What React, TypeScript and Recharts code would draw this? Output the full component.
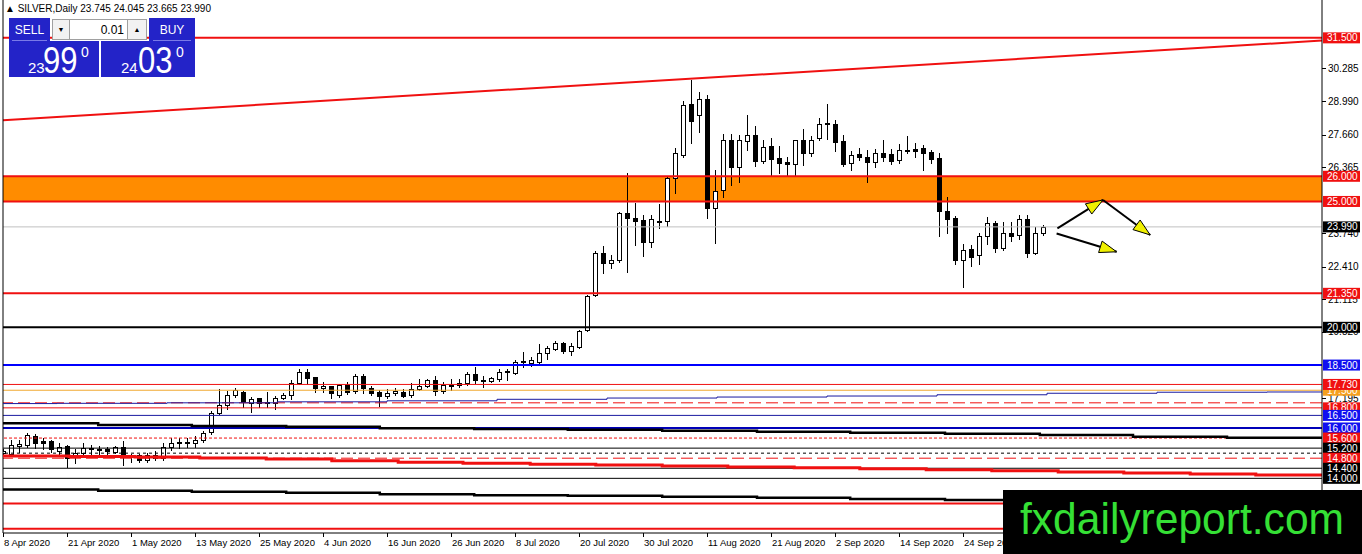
import React from 'react';
import { ComposedChart, Bar, Line, XAxis, YAxis, ReferenceLine, ReferenceArea } from 'recharts';

// ---------- axis ranges (bar index / price) ----------
const X_MIN = 0;
const X_MAX = 164.875;
const Y_MIN = 11.828;
const Y_MAX = 33.004;

// ---------- daily OHLC (SILVER) ----------
const opens = [
  14.99, 14.95, 15.27, 15.31, 15.67, 15.47, 15.47, 15.07, 15.27, 14.84,
  14.99, 15.19, 15.17, 15.15, 15.04, 15.24, 14.92, 14.91, 14.72, 14.91,
  14.80, 15.24, 15.39, 15.43, 15.39, 15.51, 15.83, 16.59, 16.91, 17.30,
  17.42, 16.98, 17.18, 17.04, 16.98, 17.18, 17.30, 17.78, 18.24, 18.01,
  17.58, 17.66, 17.30, 17.70, 17.46, 18.06, 17.58, 17.42, 17.26, 17.40,
  17.42, 17.30, 17.54, 17.66, 17.90, 17.46, 17.66, 17.70, 17.78, 18.14,
  17.90, 17.86, 17.94, 18.22, 18.18, 18.62, 18.58, 18.62, 18.98, 19.14,
  19.38, 19.06, 19.22, 19.89, 21.28, 22.94, 22.55, 22.67, 24.54, 24.34,
  24.26, 23.39, 24.24, 24.22, 25.93, 26.84, 28.87, 28.44, 29.06, 24.73,
  25.45, 27.44, 26.36, 27.42, 27.64, 26.62, 27.20, 26.71, 26.56, 26.48,
  27.44, 26.94, 27.51, 28.07, 28.08, 27.42, 26.52, 26.89, 26.78, 26.58,
  26.91, 26.87, 26.65, 27.02, 27.10, 27.14, 26.98, 26.71, 24.63, 24.33,
  22.69, 23.11, 22.87, 23.62, 24.13, 23.17, 23.73, 23.66, 24.29, 22.96,
  23.745,
];
const highs = [
  15.16, 15.51, 15.54, 15.79, 15.75, 15.59, 15.54, 15.39, 15.31, 15.15,
  15.39, 15.34, 15.29, 15.23, 15.29, 15.47, 14.97, 14.97, 14.99, 15.09,
  15.39, 15.59, 15.59, 15.59, 15.69, 15.89, 16.66, 17.54, 17.47, 17.59,
  17.46, 17.24, 17.20, 17.44, 17.29, 17.39, 17.89, 18.34, 18.34, 18.04,
  17.82, 17.68, 17.74, 17.82, 18.14, 18.14, 17.66, 17.50, 17.54, 17.58,
  17.54, 17.78, 17.94, 17.94, 18.06, 17.82, 17.94, 17.94, 18.24, 18.44,
  18.06, 18.02, 18.34, 18.34, 18.70, 19.02, 18.82, 19.34, 19.26, 19.46,
  19.42, 19.38, 19.90, 21.29, 23.04, 23.23, 22.87, 24.59, 26.14, 24.94,
  24.46, 24.46, 24.90, 25.99, 27.12, 29.01, 29.83, 29.36, 29.23, 26.25,
  27.68, 27.68, 27.64, 28.44, 28.00, 27.44, 27.52, 27.20, 26.76, 27.44,
  27.87, 27.60, 28.31, 28.87, 28.24, 27.64, 27.02, 27.14, 27.04, 27.08,
  27.44, 27.10, 27.28, 27.60, 27.34, 27.24, 27.04, 26.91, 25.16, 24.41,
  23.31, 23.27, 23.75, 24.39, 24.24, 24.20, 24.20, 24.47, 24.47, 23.99,
  24.045,
];
const lows = [
  14.94, 14.89, 15.03, 15.25, 15.19, 15.15, 15.03, 14.95, 14.44, 14.60,
  14.84, 14.89, 14.94, 14.94, 14.99, 14.52, 14.64, 14.64, 14.64, 14.74,
  14.74, 15.14, 15.19, 15.24, 15.24, 15.44, 15.77, 16.54, 16.74, 17.24,
  16.82, 16.64, 16.84, 16.84, 16.74, 17.14, 17.14, 17.74, 17.74, 17.42,
  17.42, 17.18, 17.24, 17.34, 17.38, 17.38, 17.30, 16.86, 17.18, 17.30,
  17.22, 17.22, 17.50, 17.62, 17.30, 17.38, 17.50, 17.64, 17.70, 17.78,
  17.62, 17.84, 17.86, 17.90, 18.14, 18.42, 18.46, 18.58, 18.74, 19.10,
  18.98, 18.90, 19.18, 19.84, 21.24, 22.15, 22.35, 22.59, 22.20, 23.27,
  22.83, 23.19, 23.94, 24.04, 25.34, 26.77, 27.32, 27.77, 24.34, 23.36,
  25.19, 25.65, 25.76, 27.04, 26.41, 26.54, 26.04, 26.14, 26.04, 26.04,
  26.45, 26.80, 27.44, 27.47, 27.02, 26.41, 26.25, 26.64, 25.78, 26.37,
  26.62, 26.49, 26.54, 26.94, 26.77, 26.24, 26.54, 23.62, 23.76, 22.51,
  21.61, 22.44, 22.51, 23.31, 22.99, 23.09, 23.44, 23.52, 22.80, 22.91,
  23.665,
];
const closes = [
  15.09, 15.31, 15.35, 15.71, 15.39, 15.39, 15.15, 15.23, 14.80, 14.99,
  15.19, 15.17, 15.14, 15.07, 15.24, 14.84, 14.86, 14.72, 14.91, 14.80,
  15.24, 15.39, 15.43, 15.44, 15.51, 15.79, 16.59, 16.91, 17.30, 17.50,
  17.02, 17.14, 16.98, 17.00, 17.18, 17.30, 17.78, 18.21, 17.99, 17.58,
  17.66, 17.38, 17.70, 17.42, 18.06, 17.58, 17.38, 17.26, 17.38, 17.46,
  17.26, 17.54, 17.66, 17.90, 17.46, 17.70, 17.70, 17.78, 18.14, 17.90,
  17.86, 17.98, 18.22, 18.26, 18.62, 18.66, 18.70, 18.98, 19.18, 19.38,
  19.06, 19.26, 19.86, 21.24, 22.96, 22.54, 22.67, 24.54, 24.34, 24.22,
  23.39, 24.30, 24.20, 25.93, 26.93, 28.84, 28.20, 29.06, 24.73, 25.43,
  27.44, 26.36, 27.44, 27.64, 26.62, 27.15, 26.70, 26.54, 26.48, 27.44,
  26.94, 27.44, 28.07, 28.11, 27.38, 26.49, 26.85, 26.78, 26.58, 26.91,
  26.78, 26.62, 27.06, 27.04, 27.02, 26.94, 26.67, 24.63, 24.29, 22.67,
  23.07, 22.80, 23.62, 24.13, 23.17, 23.73, 23.64, 24.29, 22.96, 23.73,
  23.99,
];

// ---------- time axis ----------
const dateTickIndex = [0, 8, 16, 24, 32, 40, 48, 56, 64, 72, 80, 88, 96, 104, 112, 120];
const dateLabels = [
  '8 Apr 2020', '21 Apr 2020', '1 May 2020', '13 May 2020', '25 May 2020', '4 Jun 2020',
  '16 Jun 2020', '26 Jun 2020', '8 Jul 2020', '20 Jul 2020', '30 Jul 2020', '11 Aug 2020',
  '21 Aug 2020', '2 Sep 2020', '14 Sep 2020', '24 Sep 2020',
];

// ---------- price axis ----------
const priceTicks = [30.285, 28.99, 27.66, 26.365, 23.74, 22.41, 21.115, 19.82, 17.195];

// horizontal levels with a price tag (tag order = drawing order)
const levelValues = [31.5, 26, 25, 23.99, 21.35, 20, 18.5, 17.5, 17.73, 16.8, 16.5, 16, 15.6, 15.2, 14.8, 14.4, 14];
// levels whose tags are not visible
const unlabeledLevels = [17.0, 15.0, 13.0, 12.0];

// trend line (bar index, price)
const trendLine = [
  { x: 0, y: 28.228 },
  { x: 164.875, y: 31.391 },
];

// projection arrows [x1, y1, x2, y2]
const arrowSegments = [
  [131.8, 23.93, 137.5, 25.06],
  [137.5, 25.06, 143.4, 23.67],
  [131.7, 23.73, 139.2, 23.0],
];

// stepped indicator lines [bar index, price]
const upperBlackSteps = [
  [0, 16.19], [11.9, 16.12], [23.6, 16.08], [35.4, 16.05], [47.1, 15.99], [58.9, 15.96],
  [70.6, 15.93], [82.4, 15.89], [94.25, 15.85], [105.9, 15.81], [117.75, 15.77],
  [129.6, 15.72], [141.25, 15.65], [153, 15.61], [164.875, 15.61],
];
const lowerBlackSteps = [
  [0, 13.56], [11.9, 13.51], [23.6, 13.47], [35.4, 13.43], [47.1, 13.37], [58.9, 13.33],
  [70.6, 13.31], [82.4, 13.27], [94.25, 13.23], [105.9, 13.18], [117.75, 13.14],
  [129.6, 13.1], [141.25, 13.06], [153, 13.02], [164.875, 13.02],
];
const redSteps = [
  [0, 14.89], [8.25, 14.87], [16.5, 14.85], [24.6, 14.81], [32.9, 14.77], [41.1, 14.7],
  [49.4, 14.64], [57.5, 14.6], [65.9, 14.56], [74.1, 14.53], [82.4, 14.49], [90.6, 14.45],
  [98.9, 14.42], [107.1, 14.38], [115.4, 14.34], [123.6, 14.3], [131.9, 14.25], [140.1, 14.21],
  [148.4, 14.17], [156.6, 14.13], [164.875, 14.13],
];
const blueSteps = [
  [0, 16.97], [6.75, 16.98], [20.5, 17.0], [34.25, 17.04], [48, 17.08], [61.75, 17.14],
  [75.5, 17.19], [89.25, 17.23], [103, 17.27], [116.75, 17.32], [130.5, 17.38],
  [144.25, 17.42], [158, 17.43], [164.875, 17.43],
];

const BID = '23.990';
const ASK = '24.030';

// ---------- styles ----------
const FONT = '"Liberation Sans", Arial, sans-serif';
const RED = '#f01010';
const levelStyles = [
  { stroke: RED, w: 2, tag: RED },
  { stroke: RED, w: 2, tag: RED },
  { stroke: RED, w: 2, tag: RED },
  { stroke: '#c0c0c0', w: 1, tag: '#000' },
  { stroke: RED, w: 2, tag: RED },
  { stroke: '#000', w: 2, tag: '#000' },
  { stroke: '#0000ff', w: 2, tag: '#1010f0' },
  { stroke: '#f0a830', w: 1, tag: '#f5a020' },
  { stroke: RED, w: 1, tag: RED },
  { stroke: RED, w: 1, tag: RED },
  { stroke: '#1a1aa0', w: 1, tag: '#1010f0' },
  { stroke: '#0000b8', w: 2, tag: '#1010f0' },
  { stroke: RED, w: 1, tag: RED, dash: '3 2' },
  { stroke: '#000', w: 1, tag: '#000' },
  { stroke: RED, w: 1, tag: RED, dash: '12 5' },
  { stroke: '#000', w: 1, tag: '#000' },
  { stroke: '#000', w: 1, tag: '#000' },
];
const unlabeledStyles = [
  { stroke: RED, w: 1, dash: '12 5' },
  { stroke: '#000', w: 1, dash: '3 3' },
  { stroke: RED, w: 2 },
  { stroke: RED, w: 2 },
];

const candles = opens.map((o, i) => ({ i, o, h: highs[i], l: lows[i], c: closes[i] }));
const toPts = (arr: number[][]) => arr.map(([i, v]) => ({ i, v }));

function CandleShape(props: any) {
  const { x, y, width, height, payload } = props;
  if (!payload || !isFinite(x) || !isFinite(y) || !isFinite(height)) return <g />;
  const top = Math.min(y, y + height);
  const bottom = Math.max(y, y + height);
  const span = payload.h - payload.l || 1;
  const toY = (p: number) => top + ((payload.h - p) / span) * (bottom - top);
  const cx = Math.round(x + width / 2) + 0.5;
  const yo = toY(payload.o);
  const yc = toY(payload.c);
  const bt = Math.round(Math.min(yo, yc)) + 0.5;
  let bb = Math.round(Math.max(yo, yc)) + 0.5;
  if (bb - bt < 1) bb = bt + 1;
  const up = payload.c >= payload.o;
  return (
    <g>
      <line x1={cx} y1={Math.round(top)} x2={cx} y2={Math.round(bottom) + 1} stroke="#000" strokeWidth={1} />
      <rect x={cx - 2} y={bt} width={4} height={bb - bt} fill={up ? '#fff' : '#000'} stroke="#000" strokeWidth={1} />
    </g>
  );
}

function ArrowShape(props: any) {
  const { x1, y1, x2, y2 } = props;
  const a = Math.atan2(y2 - y1, x2 - x1);
  const L = 17;
  const W = 6;
  const bx = x2 - L * Math.cos(a);
  const by = y2 - L * Math.sin(a);
  const pts = `${x2},${y2} ${bx - W * Math.sin(a)},${by + W * Math.cos(a)} ${bx + W * Math.sin(a)},${by - W * Math.cos(a)}`;
  return (
    <g>
      <line x1={x1} y1={y1} x2={x2} y2={y2} stroke="#000" strokeWidth={2} />
      <polygon points={pts} fill="#f0f000" stroke="#000" strokeWidth={1} />
    </g>
  );
}

function DateTick(props: any) {
  const { x, y, payload } = props;
  const k = dateTickIndex.indexOf(payload.value);
  return (
    <g>
      <line x1={Math.round(x) + 0.5} x2={Math.round(x) + 0.5} y1={y} y2={y + 4} stroke="#000" />
      <text x={x + 1} y={y + 13} fontSize={9.5} fontFamily={FONT} fill="#000">
        {k >= 0 ? dateLabels[k] : ''}
      </text>
    </g>
  );
}

function PriceTick(props: any) {
  const { x, y, payload } = props;
  const v = payload.value as number;
  const li = levelValues.indexOf(v);
  const label = v.toFixed(3);
  if (li >= 0) {
    return (
      <g>
        <rect x={x + 1} y={y - 5.5} width={37} height={11} fill={levelStyles[li].tag} />
        <text x={x + 5} y={y + 3.6} fontSize={10} fontFamily={FONT} fill="#fff">
          {label}
        </text>
      </g>
    );
  }
  return (
    <g>
      <line x1={x} x2={x + 4} y1={Math.round(y) + 0.5} y2={Math.round(y) + 0.5} stroke="#000" />
      <text x={x + 6} y={y + 3.6} fontSize={10} fontFamily={FONT} fill="#000">
        {label}
      </text>
    </g>
  );
}

function Header() {
  const last = candles[candles.length - 1];
  const [bidBig, bidSmall] = BID.split('.');
  const [askBig, askSmall] = ASK.split('.');
  const BLUE = '#2323c8';
  return (
    <svg width={300} height={80} style={{ position: 'absolute', left: 0, top: 0 }}>
      <text x={5} y={12} fontSize={10} fontFamily={FONT} fill="#000">
        {`\u25B2 SILVER,Daily  ${last.o.toFixed(3)} ${last.h.toFixed(3)} ${last.l.toFixed(3)} ${last.c.toFixed(3)}`}
      </text>
      <rect x={9} y={18} width={41} height={23} fill={BLUE} />
      <text x={29.5} y={34} fontSize={12} fontFamily={FONT} fill="#fff" textAnchor="middle">SELL</text>
      <line x1={12} x2={47} y1={40.5} y2={40.5} stroke="#7a7ae8" />
      <rect x={52.5} y={19.5} width={17} height={20} fill="#f2f2f2" stroke="#a0a0a0" />
      <text x={61} y={32} fontSize={7} fontFamily={FONT} fill="#000" textAnchor="middle">{'\u25BC'}</text>
      <rect x={69.5} y={19.5} width={58} height={20} fill="#fff" stroke="#a0a0a0" />
      <text x={124} y={34} fontSize={12} fontFamily={FONT} fill="#000" textAnchor="end">0.01</text>
      <rect x={127.5} y={19.5} width={19} height={20} fill="#f2f2f2" stroke="#a0a0a0" />
      <text x={137} y={32} fontSize={7} fontFamily={FONT} fill="#000" textAnchor="middle">{'\u25B2'}</text>
      <rect x={149} y={18} width={46} height={23} fill={BLUE} />
      <text x={172} y={34} fontSize={12} fontFamily={FONT} fill="#fff" textAnchor="middle">BUY</text>
      <line x1={153} x2={191} y1={40.5} y2={40.5} stroke="#7a7ae8" />
      <rect x={9} y={41} width={90} height={36} fill={BLUE} />
      <rect x={101} y={41} width={94} height={36} fill={BLUE} />
      <text x={28} y={73} fontSize={15} fontFamily={FONT} fill="#fff">{bidBig}</text>
      <text transform="translate(43,73) scale(0.84,1)" fontSize={37} fontFamily={FONT} fill="#fff">{bidSmall.slice(0, 2)}</text>
      <text x={81} y={57} fontSize={14} fontFamily={FONT} fill="#fff">{bidSmall.slice(2)}</text>
      <text x={121} y={73} fontSize={15} fontFamily={FONT} fill="#fff">{askBig}</text>
      <text transform="translate(138,73) scale(0.84,1)" fontSize={37} fontFamily={FONT} fill="#fff">{askSmall.slice(0, 2)}</text>
      <text x={176} y={57} fontSize={14} fontFamily={FONT} fill="#fff">{askSmall.slice(2)}</text>
    </svg>
  );
}

function Watermark() {
  return (
    <svg width={359} height={64} style={{ position: 'absolute', left: 1003, top: 490 }}>
      <rect x={0} y={0} width={359} height={64} fill="#000" />
      <text x={17} y={43.5} fontSize={44} fontFamily={FONT} fill="#35e035" textLength={324} lengthAdjust="spacingAndGlyphs">
        fxdailyreport.com
      </text>
    </svg>
  );
}

export default function App() {
  return (
    <div style={{ position: 'absolute', left: 0, top: 0, width: 1362, height: 554, background: '#fff', overflow: 'hidden' }}>
      <ComposedChart width={1362} height={554} data={candles} margin={{ top: 0, right: 0, bottom: 0, left: 3 }}>
        <XAxis
          dataKey="i"
          type="number"
          domain={[X_MIN, X_MAX]}
          allowDataOverflow
          ticks={dateTickIndex}
          interval={0}
          tick={<DateTick />}
          tickLine={false}
          tickSize={0}
          tickMargin={0}
          axisLine={{ stroke: '#000' }}
          height={21}
        />
        <YAxis
          orientation="right"
          type="number"
          domain={[Y_MIN, Y_MAX]}
          allowDataOverflow
          ticks={[...priceTicks, ...levelValues]}
          interval={0}
          tick={<PriceTick />}
          tickLine={false}
          tickSize={0}
          tickMargin={0}
          axisLine={{ stroke: '#000' }}
          width={40}
        />
        <ReferenceArea y1={25} y2={26} fill="#ff8c00" fillOpacity={1} stroke="none" ifOverflow="hidden" />
        {levelValues.map((v, k) => (
          <ReferenceLine
            key={`lv${k}`}
            y={v}
            stroke={levelStyles[k].stroke}
            strokeWidth={levelStyles[k].w}
            strokeDasharray={levelStyles[k].dash}
          />
        ))}
        {unlabeledLevels.map((v, k) => (
          <ReferenceLine
            key={`ul${k}`}
            y={v}
            stroke={unlabeledStyles[k].stroke}
            strokeWidth={unlabeledStyles[k].w}
            strokeDasharray={unlabeledStyles[k].dash}
          />
        ))}
        <ReferenceLine segment={trendLine} stroke={RED} strokeWidth={2} />
        <ReferenceLine x={X_MIN} stroke="#000" strokeWidth={1} />
        <Line data={toPts(blueSteps)} dataKey="v" type="stepAfter" stroke="#1a1aa0" strokeWidth={1} dot={false} activeDot={false} isAnimationActive={false} />
        <Line data={toPts(upperBlackSteps)} dataKey="v" type="stepAfter" stroke="#000" strokeWidth={2.5} dot={false} activeDot={false} isAnimationActive={false} />
        <Line data={toPts(redSteps)} dataKey="v" type="stepAfter" stroke={RED} strokeWidth={3} dot={false} activeDot={false} isAnimationActive={false} />
        <Line data={toPts(lowerBlackSteps)} dataKey="v" type="stepAfter" stroke="#000" strokeWidth={2.5} dot={false} activeDot={false} isAnimationActive={false} />
        <Bar dataKey={(d: any) => [d.l, d.h]} barSize={5} shape={<CandleShape />} isAnimationActive={false} />
        {arrowSegments.map((s, k) => (
          <ReferenceLine
            key={`ar${k}`}
            segment={[{ x: s[0], y: s[1] }, { x: s[2], y: s[3] }]}
            shape={(p: any) => <ArrowShape {...p} />}
          />
        ))}
      </ComposedChart>
      <Header />
      <Watermark />
    </div>
  );
}
